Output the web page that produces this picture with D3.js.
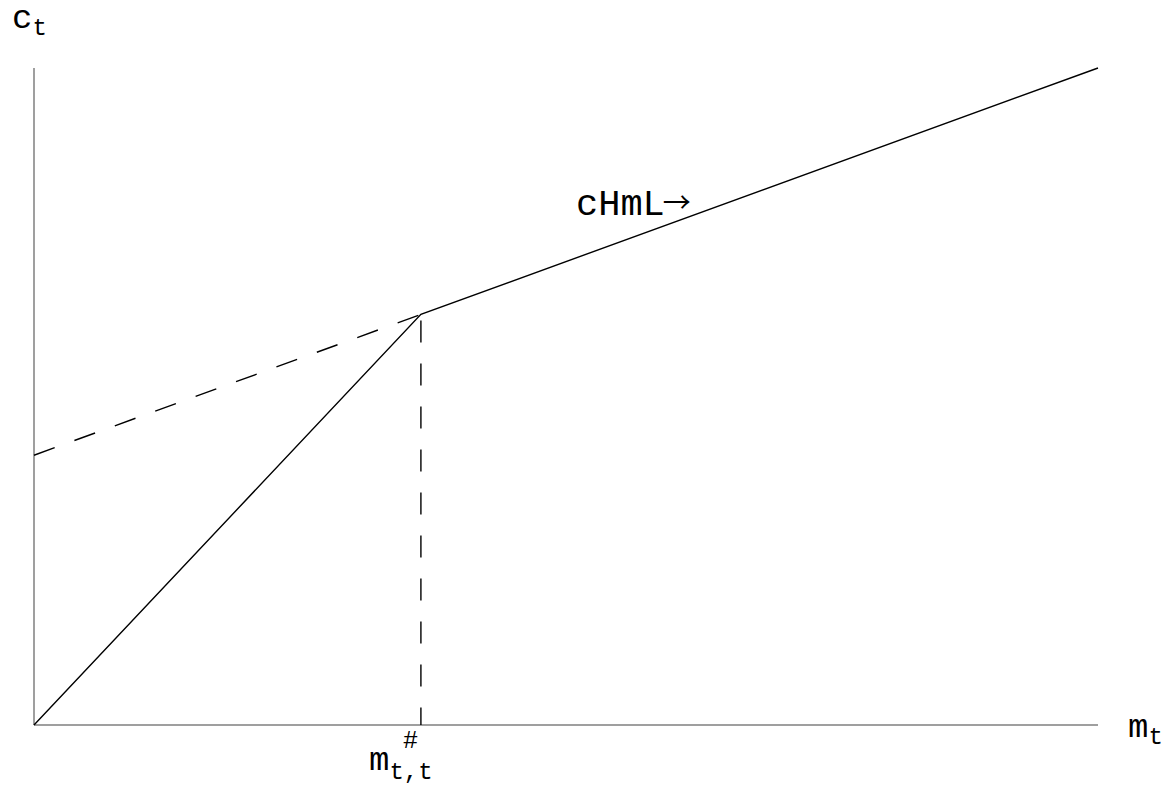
<!DOCTYPE html>
<html>
<head>
<meta charset="utf-8">
<script src="https://cdn.jsdelivr.net/npm/d3@7"></script>
<style>
  html, body { margin: 0; padding: 0; background: #fff; }
  svg text { font-family: "Liberation Mono", "Courier New", monospace; fill: #000; }
</style>
</head>
<body>
<svg id="chart" width="1170" height="788"></svg>
<script>
// Consumption function c(m): linear up to the kink m#, then a flatter segment
const consumption = [[0, 0], [1, 1], [2.75, 1.6]];
// Extension of the upper segment back to m = 0
const extension = [[0, 0.657], [1, 1]];
// Drop line from the kink to the horizontal axis
const kinkDrop = [[1, 1], [1, 0]];

const xDomain = [0, 2.75];
const yDomain = [0, 1.6];

const svg = d3.select("#chart");
const x = d3.scaleLinear().domain(xDomain).range([34, 1098]);
const y = d3.scaleLinear().domain(yDomain).range([725, 68]);
const line = d3.line().x(d => x(d[0])).y(d => y(d[1]));

// Axes
svg.append("line")
  .attr("x1", x(0)).attr("x2", x(xDomain[1]))
  .attr("y1", y(0)).attr("y2", y(0))
  .attr("stroke", "#7f7f7f").attr("stroke-width", 1.5);
svg.append("line")
  .attr("x1", x(0)).attr("x2", x(0))
  .attr("y1", y(0)).attr("y2", y(yDomain[1]))
  .attr("stroke", "#7f7f7f").attr("stroke-width", 1.5);

// Dashed guides
svg.append("path").datum(extension).attr("d", line)
  .attr("fill", "none").attr("stroke", "#000").attr("stroke-width", 1.4)
  .attr("stroke-dasharray", "22,21");
svg.append("path").datum(kinkDrop).attr("d", line)
  .attr("fill", "none").attr("stroke", "#000").attr("stroke-width", 1.4)
  .attr("stroke-dasharray", "22,21").attr("stroke-dashoffset", -6);

// Consumption function
svg.append("path").datum(consumption).attr("d", line)
  .attr("fill", "none").attr("stroke", "#000").attr("stroke-width", 1.4);

// Labels
const cLab = svg.append("text").attr("x", 12).attr("y", 28).attr("font-size", 34);
cLab.append("tspan").text("c");
cLab.append("tspan").attr("font-size", 24).attr("dy", 7).text("t");

const mLab = svg.append("text").attr("x", 1128).attr("y", 737).attr("font-size", 34);
mLab.append("tspan").text("m");
mLab.append("tspan").attr("font-size", 24).attr("dy", 7).text("t");

const sLab = svg.append("text").attr("x", 369).attr("y", 770).attr("font-size", 34);
sLab.append("tspan").text("m");
sLab.append("tspan").attr("font-size", 24).attr("dy", 9).text("t,t");
svg.append("text").attr("x", 403).attr("y", 748).attr("font-size", 25).text("#");

const fLab = svg.append("text").attr("x", 576).attr("y", 215).attr("font-size", 37);
fLab.append("tspan").text("cHmL");
fLab.append("tspan").attr("font-family", "Noto Sans CJK SC").attr("font-size", 28)
  .attr("dx", -2).attr("dy", -2).text("\u2192");
</script>
</body>
</html>
